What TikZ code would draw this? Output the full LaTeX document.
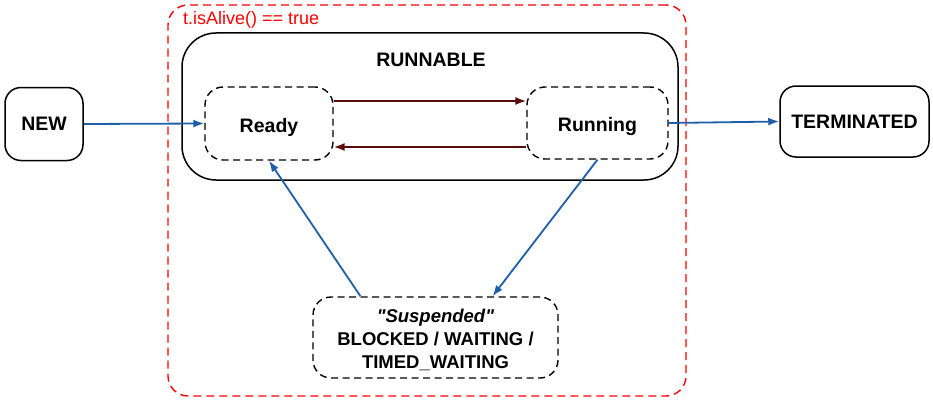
\documentclass[tikz,border=0pt]{standalone}
\usepackage{fontspec}
\setmainfont[Ligatures=TeXOff]{Liberation Sans}
\usetikzlibrary{arrows.meta}
\definecolor{flowblue}{HTML}{1F5FAA}
\definecolor{maroon}{HTML}{5C0A0A}
\begin{document}
\begin{tikzpicture}[x=1pt,y=-1pt,
  statebox/.style={draw=black,line width=1.5pt,rounded corners=16pt,inner sep=0pt,font=\fontsize{19.5}{23}\selectfont\bfseries,align=center},
  substate/.style={draw=black,line width=1.4pt,dash pattern=on 7pt off 4.5pt,rounded corners=18pt,inner sep=0pt,font=\fontsize{19.5}{23}\selectfont\bfseries,align=center},
  bluearrow/.style={draw=flowblue,line width=1.8pt,-{Latex[length=11pt,width=8pt]}},
  redarrow/.style={draw=maroon,line width=1.8pt,-{Latex[length=11pt,width=8pt]}}
]
\useasboundingbox (0,0) rectangle (933,404);
% outer alive region
\node[draw=red,line width=1.4pt,dash pattern=on 8pt off 5pt,rounded corners=20pt,minimum width=518pt,minimum height=391pt,inner sep=0pt] (alive) at (427,200.5) {};
\node[text=red,anchor=west,font=\fontsize{18}{21}\selectfont,inner sep=0pt] (alivelbl) at (183,19.5) {t.isAlive() == true};
% runnable
\node[draw=black,line width=1.5pt,rounded corners=34pt,minimum width=496pt,minimum height=147pt,inner sep=0pt] (runnable) at (430,106.5) {};
\node[font=\fontsize{19.5}{23}\selectfont\bfseries,inner sep=0pt] (runlbl) at (431,59.5) {RUNNABLE};
% states
\node[statebox,minimum width=78pt,minimum height=73pt] (new) at (44,124) {NEW};
\node[statebox,minimum width=149pt,minimum height=71pt] (term) at (854.5,121.5) {TERMINATED};
\node[substate,minimum width=128pt,minimum height=73pt,text height=17pt,text depth=0pt] (ready) at (269,123.5) {Ready};
\node[substate,minimum width=141pt,minimum height=72pt,text height=17pt,text depth=0pt] (running) at (597.5,123) {Running};
\node[substate,minimum width=245pt,minimum height=81pt,font=\fontsize{18.5}{23}\selectfont\bfseries] (susp) at (435.5,337.5) {\rule{0pt}{19pt}\textit{"Suspended"}\\BLOCKED / WAITING /\\TIMED\_WAITING};
% connectors
\draw[bluearrow] (new.east) -- (ready.west);
\draw[bluearrow] (running.east) -- (term.west);
\draw[redarrow] ([yshift=22.5pt]ready.east) -- ([yshift=22pt]running.west);
\draw[redarrow] ([yshift=-24pt]running.west) -- ([yshift=-23.5pt]ready.east);
\draw[bluearrow] (running.south) -- ([xshift=57pt]susp.north);
\draw[bluearrow] ([xshift=-75pt]susp.north) -- (ready.south);
\end{tikzpicture}
\end{document}
